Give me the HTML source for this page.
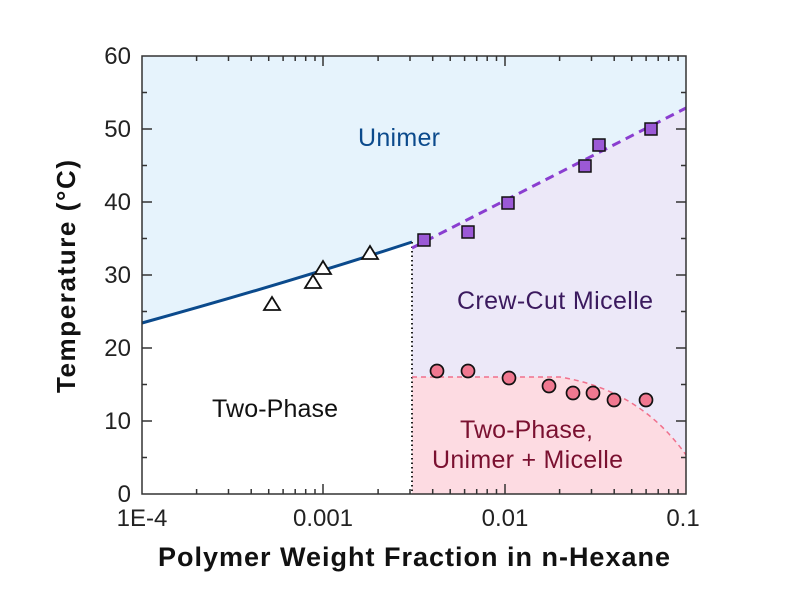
<!DOCTYPE html>
<html><head><style>body{margin:0;background:#fff}svg{display:block}</style></head><body>
<svg width="800" height="600" viewBox="0 0 800 600" xmlns="http://www.w3.org/2000/svg" font-family="Liberation Sans, sans-serif">
<rect width="800" height="600" fill="#fff"/>
<path d="M142,56 L686,56 L686,108 L412,248 L412,242 Q290,282 142,323 Z" fill="#e6f3fc"/>
<path d="M412,248 L686,108 L686,455 Q640,390 560,377 L412,377 Z" fill="#ece8f8"/>
<path d="M412,377 L560,377 Q640,390 686,455 L686,494 L412,494 Z" fill="#fddbe2"/>
<path d="M142,323 Q290,282 412,242" fill="none" stroke="#0b4a8c" stroke-width="3"/>
<line x1="412" y1="242" x2="412" y2="494" stroke="#222" stroke-width="2" stroke-dasharray="1.5,3"/>
<line x1="412" y1="248" x2="686" y2="108" stroke="#8a3ed0" stroke-width="3" stroke-dasharray="9,6"/>
<path d="M412,377 L560,377 Q640,390 686,455" fill="none" stroke="#f0708c" stroke-width="1.5" stroke-dasharray="5,4"/>
<rect x="142" y="56" width="544" height="438" fill="none" stroke="#333" stroke-width="1.5"/>
<defs>
<g id="mn">
<line x1="196.6" y1="494" x2="196.6" y2="489"/><line x1="228.5" y1="494" x2="228.5" y2="489"/><line x1="251.2" y1="494" x2="251.2" y2="489"/><line x1="268.7" y1="494" x2="268.7" y2="489"/><line x1="283.1" y1="494" x2="283.1" y2="489"/><line x1="295.2" y1="494" x2="295.2" y2="489"/><line x1="305.7" y1="494" x2="305.7" y2="489"/><line x1="315" y1="494" x2="315" y2="489"/>
</g>
</defs>
<g stroke="#333" stroke-width="1.5">
<line x1="142" y1="129" x2="152" y2="129"/><line x1="142" y1="202" x2="152" y2="202"/><line x1="142" y1="275" x2="152" y2="275"/><line x1="142" y1="348" x2="152" y2="348"/><line x1="142" y1="421" x2="152" y2="421"/>
<line x1="142" y1="92.5" x2="147" y2="92.5"/><line x1="142" y1="165.5" x2="147" y2="165.5"/><line x1="142" y1="238.5" x2="147" y2="238.5"/><line x1="142" y1="311.5" x2="147" y2="311.5"/><line x1="142" y1="384.5" x2="147" y2="384.5"/><line x1="142" y1="457.5" x2="147" y2="457.5"/>
<line x1="686" y1="129" x2="676" y2="129"/><line x1="686" y1="202" x2="676" y2="202"/><line x1="686" y1="275" x2="676" y2="275"/><line x1="686" y1="348" x2="676" y2="348"/><line x1="686" y1="421" x2="676" y2="421"/>
<line x1="686" y1="92.5" x2="681" y2="92.5"/><line x1="686" y1="165.5" x2="681" y2="165.5"/><line x1="686" y1="238.5" x2="681" y2="238.5"/><line x1="686" y1="311.5" x2="681" y2="311.5"/><line x1="686" y1="384.5" x2="681" y2="384.5"/><line x1="686" y1="457.5" x2="681" y2="457.5"/>
<line x1="323" y1="494" x2="323" y2="484"/><line x1="505" y1="494" x2="505" y2="484"/>
<line x1="323" y1="56" x2="323" y2="66"/><line x1="505" y1="56" x2="505" y2="66"/>
<use href="#mn"/><use href="#mn" x="181.5"/><use href="#mn" x="363"/>
</g>
<g stroke="#333" stroke-width="1.5" transform="translate(0,550) scale(1,-1)">
<use href="#mn"/><use href="#mn" x="181.5"/><use href="#mn" x="363"/>
</g>
<g fill="#fff" stroke="#111" stroke-width="1.8">
<polygon points="272,297 280,310 264,310"/><polygon points="313,275 321,288 305,288"/><polygon points="323,261 331,274 315,274"/><polygon points="370,246 378,259 362,259"/>
</g>
<g fill="#9b59d6" stroke="#111" stroke-width="1.5">
<rect x="418" y="234" width="12" height="12"/><rect x="462" y="226" width="12" height="12"/><rect x="502" y="197" width="12" height="12"/><rect x="579" y="160" width="12" height="12"/><rect x="593" y="139" width="12" height="12"/><rect x="645" y="123" width="12" height="12"/>
</g>
<g fill="#f07890" stroke="#111" stroke-width="1.7">
<circle cx="437" cy="371" r="6.5"/><circle cx="468" cy="371" r="6.5"/><circle cx="509" cy="378" r="6.5"/><circle cx="549" cy="386" r="6.5"/><circle cx="573" cy="393" r="6.5"/><circle cx="593" cy="393" r="6.5"/><circle cx="614" cy="400" r="6.5"/><circle cx="646" cy="400" r="6.5"/>
</g>
<text x="358" y="146" font-size="25" fill="#0b4a8c" textLength="82">Unimer</text>
<text x="457" y="309" font-size="25" fill="#3b1a5e" textLength="196">Crew-Cut Micelle</text>
<text x="212" y="417" font-size="25" fill="#111" textLength="126">Two-Phase</text>
<text x="460" y="438" font-size="25" fill="#7a1030" textLength="133">Two-Phase,</text>
<text x="432" y="468" font-size="25" fill="#7a1030" textLength="191">Unimer + Micelle</text>
<g font-size="24" fill="#222" text-anchor="end">
<text x="131" y="64">60</text><text x="131" y="137">50</text><text x="131" y="210">40</text><text x="131" y="283">30</text><text x="131" y="356">20</text><text x="131" y="429">10</text><text x="131" y="502">0</text>
</g>
<g font-size="24" fill="#222" text-anchor="middle">
<text x="142" y="526">1E-4</text><text x="323" y="526">0.001</text><text x="505" y="526">0.01</text><text x="683" y="526">0.1</text>
</g>
<text x="158" y="566" font-size="27" font-weight="bold" fill="#111" textLength="512">Polymer Weight Fraction in n-Hexane</text>
<text transform="translate(75,393) rotate(-90)" font-size="26" font-weight="bold" fill="#111" textLength="233">Temperature (°C)</text>
</svg>
</body></html>
